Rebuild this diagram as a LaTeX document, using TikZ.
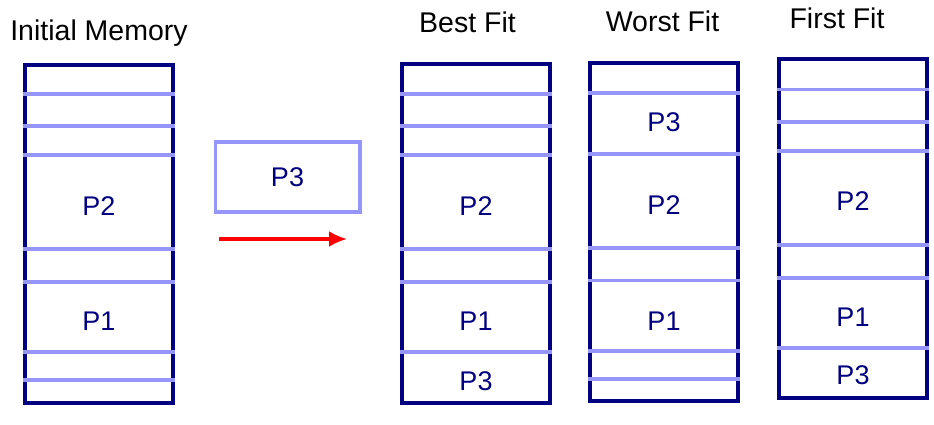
\documentclass[tikz,border=0pt]{standalone}
\usepackage{fontspec}
\setmainfont{Liberation Sans}
\usetikzlibrary{arrows.meta}
\definecolor{memnavy}{RGB}{0,0,128}
\definecolor{memlight}{RGB}{150,150,250}

\begin{document}
\begin{tikzpicture}[x=1pt,y=-1pt,>=Latex,
			memory/.style={
				draw=memnavy,
				line width=3.6pt,
				minimum width=148.4pt,
				minimum height=338.4pt,
				inner sep=0pt
			},
			sepline/.style={draw=memlight,line width=3.4pt},
			proc/.style={text=memnavy,font=\fontsize{27}{32}\selectfont},
			heading/.style={anchor=base,font=\fontsize{28.5}{34}\selectfont}]
			
			\useasboundingbox (0,0) rectangle (934,425);
			
			\node[memory] (init) at (99,234){};
			
			\node[memory] (best) at (476,233.5){};
			
			\node[memory] (worst) at (664,232){};
			
			\node[memory] (first) at (853,228.5){};
			
			\node[heading] (initT) at (99,41){Initial Memory};
			
			\node[heading] (bestT) at (467.5,33){Best Fit};
			
			\node[heading] (worstT) at (662.5,32){Worst Fit};
			
			\node[heading] (firstT) at (837,29){First Fit};
			
			% initial memory holes
			\draw[sepline](init.west |- 0,94)--(init.east |- 0,94);
			\draw[sepline](init.west |- 0,126)--(init.east |- 0,126);
			\draw[sepline](init.west |- 0,155)--(init.east |- 0,155);
			\draw[sepline](init.west |- 0,249)--(init.east |- 0,249);
			\draw[sepline](init.west |- 0,282)--(init.east |- 0,282);
			\draw[sepline](init.west |- 0,352)--(init.east |- 0,352);
			\draw[sepline](init.west |- 0,380)--(init.east |- 0,380);
			
			% best fit
			\draw[sepline](best.west |- 0,94)--(best.east |- 0,94);
			\draw[sepline](best.west |- 0,126)--(best.east |- 0,126);
			\draw[sepline](best.west |- 0,155)--(best.east |- 0,155);
			\draw[sepline](best.west |- 0,249)--(best.east |- 0,249);
			\draw[sepline](best.west |- 0,282)--(best.east |- 0,282);
			\draw[sepline](best.west |- 0,352)--(best.east |- 0,352);
			
			% worst fit
			\draw[sepline](worst.west |- 0,93)--(worst.east |- 0,93);
			\draw[sepline](worst.west |- 0,154)--(worst.east |- 0,154);
			\draw[sepline](worst.west |- 0,248)--(worst.east |- 0,248);
			\draw[sepline](worst.west |- 0,280.5)--(worst.east |- 0,280.5);
			\draw[sepline](worst.west |- 0,351)--(worst.east |- 0,351);
			\draw[sepline](worst.west |- 0,379)--(worst.east |- 0,379);
			
			% first fit
			\draw[sepline](first.west |- 0,89.5)--(first.east |- 0,89.5);
			\draw[sepline](first.west |- 0,122)--(first.east |- 0,122);
			\draw[sepline](first.west |- 0,151)--(first.east |- 0,151);
			\draw[sepline](first.west |- 0,245)--(first.east |- 0,245);
			\draw[sepline](first.west |- 0,278)--(first.east |- 0,278);
			\draw[sepline](first.west |- 0,348)--(first.east |- 0,348);
			
			\node[proc] (initP2) at (99,206){P2};
			\node[proc] (initP1) at (99,321){P1};
			
			\node[proc] (bestP2) at (476,206){P2};
			\node[proc] (bestP1) at (476,321){P1};
			\node[proc] (bestP3) at (476,381){P3};
			
			\node[proc] (worstP3) at (664,122){P3};
			\node[proc] (worstP2) at (664,205){P2};
			\node[proc] (worstP1) at (664,321){P1};
			
			\node[proc] (firstP2) at (853,201){P2};
			\node[proc] (firstP1) at (853,317){P1};
			\node[proc] (firstP3) at (853,375){P3};
			
			\node[proc,draw=memlight,line width=3.4pt,minimum width=144.6pt,minimum height=69.6pt,inner sep=0pt] (newP3) at (287.5,177){P3};
			
			\coordinate (arrS) at (219,239);
			\coordinate (arrE) at (347,239);
			
			\draw[-{Latex[length=18pt,width=16pt]},red,line width=3.2pt](arrS)--(arrE);
			
		\end{tikzpicture}
\end{document}
